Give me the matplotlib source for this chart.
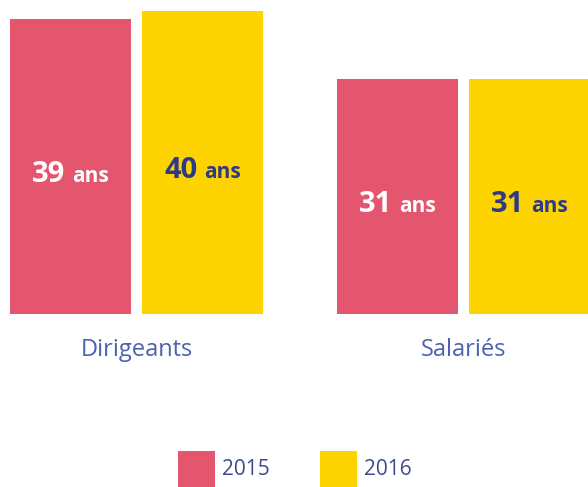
import matplotlib
matplotlib.use("Agg")
import matplotlib.pyplot as plt
from matplotlib.patches import Patch
from matplotlib.offsetbox import TextArea, HPacker, AnnotationBbox

# Average age by population and year
categories = ["Dirigeants", "Salariés"]
years = ["2015", "2016"]
ages_2015 = [39, 31]
ages_2016 = [40, 31]

colors = {"2015": "#E4566E", "2016": "#FDD300"}
label_colors = {"2015": "#FFFFFF", "2016": "#2E3A87"}
axis_text = "#4A62B0"
legend_text = "#3E4A90"
font = "Open Sans"

fig = plt.figure(figsize=(5.88, 4.87), dpi=100)
ax = fig.add_axes([0, 0.3552, 1, 0.6448])

bar_w = 0.37
offset = 0.2018
xs = list(range(len(categories)))

series = [("2015", ages_2015, -offset), ("2016", ages_2016, offset)]
for year, values, dx in series:
    bars = ax.bar([x + dx for x in xs], values, width=bar_w,
                  color=colors[year], linewidth=0)
    for rect, v in zip(bars, values):
        cx = rect.get_x() + rect.get_width() / 2
        num = TextArea(str(v), textprops=dict(fontsize=21, fontweight="bold",
                                              family=font, color=label_colors[year]))
        unit = TextArea("ans", textprops=dict(fontsize=15, fontweight="bold",
                                              family=font, color=label_colors[year]))
        pack = HPacker(children=[num, unit], align="baseline", pad=0, sep=4.5)
        ab = AnnotationBbox(pack, (cx, v / 2), xycoords="data",
                            xybox=(0, -6), boxcoords="offset points",
                            box_alignment=(0.5, 0.5), frameon=False,
                            annotation_clip=False)
        ax.add_artist(ab)

ax.set_xlim(-0.4174, 1.3807)
ax.set_ylim(0, 41.45)
ax.set_xticks(xs)
ax.set_xticklabels(categories, fontsize=17, family=font,
                   color=axis_text)
ax.tick_params(axis="x", length=0, pad=17)
ax.set_yticks([])
for s in ax.spines.values():
    s.set_visible(False)

handles = [Patch(facecolor=colors[y], edgecolor="none", label=y) for y in years]
fig.legend(handles=handles, loc="center", bbox_to_anchor=(295 / 588, 0.0376),
           ncol=2, frameon=False, borderpad=0, borderaxespad=0,
           handlelength=1.78, handleheight=2.28, handletextpad=0.35,
           columnspacing=2.4, prop=dict(family=font, size=15),
           labelcolor=legend_text)

fig.savefig("out.png", dpi=100, facecolor="white")
